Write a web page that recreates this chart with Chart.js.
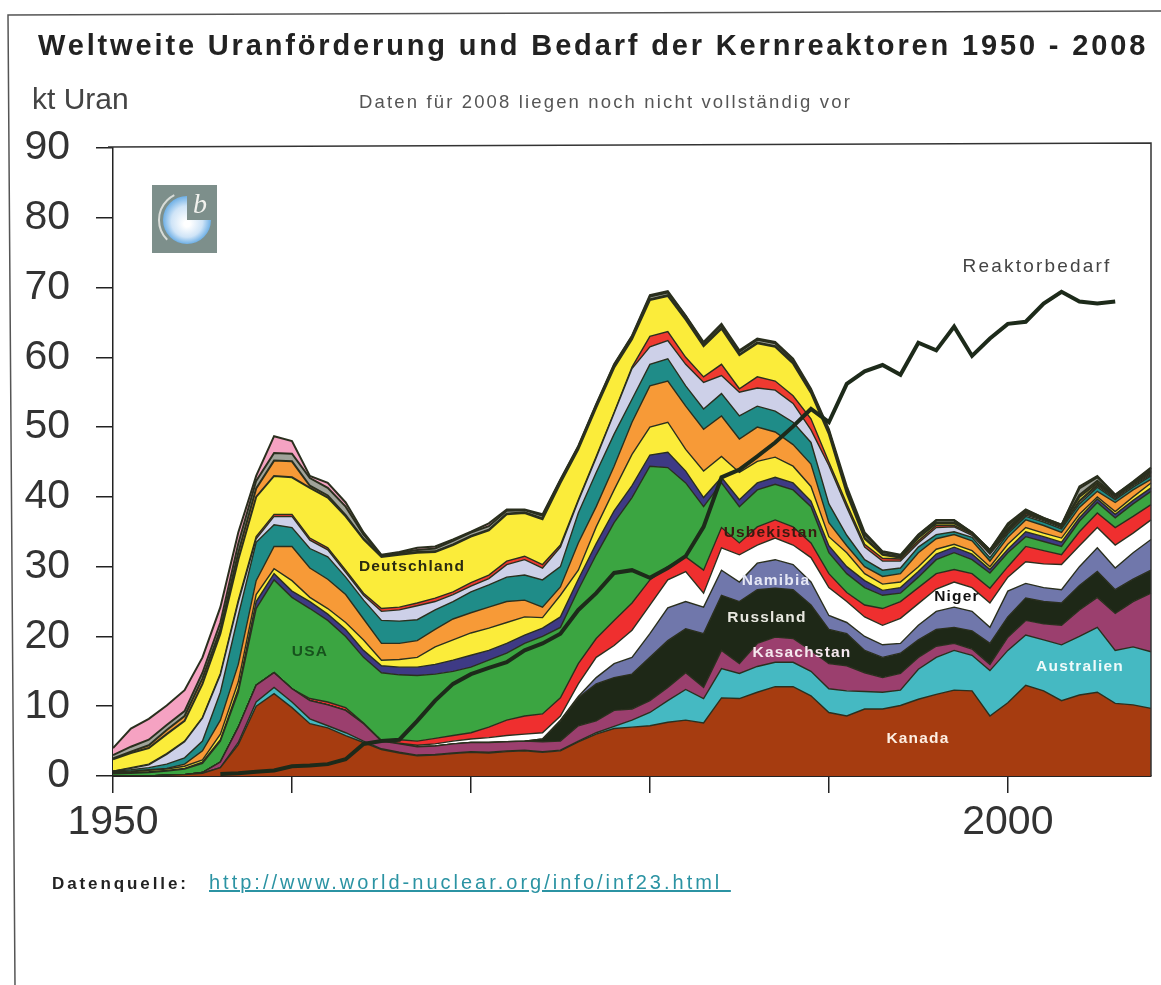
<!DOCTYPE html>
<html lang="de">
<head>
<meta charset="utf-8">
<title>Weltweite Uranförderung und Bedarf der Kernreaktoren 1950 - 2008</title>
<script src="https://cdn.jsdelivr.net/npm/chart.js@4"></script>
<style>
  body { margin: 0; background: #fff; font-family: "Liberation Sans", Arial, sans-serif; }
  #wrap { position: relative; width: 1161px; height: 985px; overflow: hidden; }
  canvas { position: absolute; left: 0; top: 0; }
  #wrap div, #wrap a { position: absolute; white-space: nowrap; color: #222; }
  #title { left: 38px; top: 29px; font-size: 29px; font-weight: bold; letter-spacing: 2.85px; }
  #unit { left: 32px; top: 82px; font-size: 30px; color: #444 !important; }
  #note { left: 359px; top: 91px; font-size: 18.5px; letter-spacing: 2.15px; color: #555 !important; }
  #source { left: 52px; top: 874px; font-size: 17px; font-weight: bold; letter-spacing: 2.9px; }
  #link { left: 209px; top: 871px; font-size: 20px; letter-spacing: 3px; color: #2b93a3 !important; text-decoration: underline; }
</style>
</head>
<body>
<div id="wrap">
  <canvas id="graphCanvas" width="1161" height="985"></canvas>
  <div id="title">Weltweite Uranförderung und Bedarf der Kernreaktoren 1950 - 2008</div>
  <div id="unit">kt Uran</div>
  <div id="note">Daten für 2008 liegen noch nicht vollständig vor</div>
  <div id="source">Datenquelle:</div>
  <a id="link" href="#">http://www.world-nuclear.org/info/inf23.html&nbsp;</a>
</div>
<script>
const years = [];
for (let y = 1950; y <= 2008; y++) years.push(y);
const labeledYears = [1950, 2000];

// upper edge of each stacked layer, kt Uran
const kanada = [0,0,0,0.1,0.2,0.4,1.2,4.5,10,11.8,
  9.8,7.5,6.9,5.8,4.8,3.8,3.3,2.9,3.0,3.2,
  3.4,3.3,3.5,3.6,3.4,3.6,4.9,6.0,6.8,7.0,
  7.2,7.7,8.0,7.6,11.2,11.1,12,12.8,12.8,11.5,
  9.1,8.6,9.6,9.6,10.1,11,11.7,12.3,12.2,8.6,
  10.5,13,12.2,10.8,11.6,12,10.4,10.2,9.7];
const australien = [0,0,0,0.1,0.2,0.4,1.2,4.8,10.6,12.7,
  10.6,8.2,7.2,6.2,5.0,3.9,3.4,3.0,3.1,3.3,
  3.5,3.4,3.6,3.7,3.5,3.7,5.0,6.2,7.1,8.0,
  9.1,10.8,12.4,11.1,15.4,14.7,15.7,16.3,16.3,15,
  12.5,12.2,12.1,12,12.3,15.3,17,18,17.3,15.1,
  18,20.2,19.5,18.8,20,21.3,18,18.5,17.8];
const kasachstan = [0,0,0,0.1,0.2,0.5,2,7,13,14.8,
  12.5,10.8,10.2,9.4,7.5,5,4.6,4.2,4.3,4.6,
  4.8,4.8,4.9,5,4.9,5,7.2,7.9,9.4,9.6,
  10.8,12.7,14.8,12.7,18,16.1,19,19.9,19.7,18,
  16.1,15.8,14.8,14.1,14.7,17,18.6,19,18.2,16,
  19.9,22.3,21.8,21.6,23.8,25.6,23.3,25,26.2];
const russland = [0,0,0,0.1,0.2,0.5,2,7,13,14.8,
  12.5,10.8,10.2,9.4,7.5,5,4.6,4.2,4.3,4.6,
  4.8,4.8,4.9,5,5.3,7.9,11.2,13.2,14.1,14.6,
  17,19.4,21.1,20.4,25.9,25,26.7,26.9,26.7,24.5,
  21,20.4,18,17,17.6,19.5,21,21.3,20.8,19,
  22.8,25.5,25,24.8,27.3,29.3,26.7,28.2,29.5];
const namibia = [0,0,0,0.1,0.2,0.5,2,7,13,14.8,
  12.5,10.8,10.2,9.4,7.5,5,4.6,4.2,4.3,4.6,
  4.8,4.8,4.9,5,5.3,8,11.4,14.1,16.1,17,
  20.4,24.1,25,24.2,29.5,27.8,30.5,31,30.3,27.8,
  23,22,20,18.8,19,21.6,23.6,24.2,23.6,21.3,
  26.5,27.6,27,26.7,30,32.7,29.8,32,33.9];
const niger = [0,0,0,0.1,0.2,0.5,2,7,13,14.8,
  12.5,10.8,10.2,9.4,7.5,5,4.7,4.4,4.6,5,
  5.3,5.5,5.8,6,6.2,8.6,13.2,17,18.7,20.9,
  24.5,28.1,29.3,26.2,32.7,31.7,33.1,34.1,33.1,31.3,
  27,25,22.8,21.6,22.6,24.7,26.8,27.8,27,24.8,
  28.5,30.7,30.4,30.3,33,35.6,33.1,34.8,36.7];
const usbekistan = [0,0,0,0.1,0.2,0.5,2,7,13,14.8,
  12.5,11.1,10.6,9.8,7.6,5.1,5.2,5,5.4,5.8,
  6.2,7,8,8.6,8.9,11.2,16.1,19.7,22.3,24.8,
  28.1,30,31.4,29.5,35.6,33.4,35.7,36.7,35.7,33.4,
  29,26.3,24.5,24,25,27,29,29.6,29,26.9,
  30,32.9,32.3,31.7,35,37.7,35.6,37.2,38.9];
const usa = [0.3,0.4,0.5,0.7,1,1.8,5,12,24,28.1,
  25.6,24,22.3,20,17,14.8,14.5,14.4,14.6,15,
  15.6,16.6,17.6,19,20,21.3,26.7,31.7,36.3,39.9,
  44.4,44.2,42,38.6,42,38.6,41,41.8,41,38.6,
  32,29,27,25.9,26.2,28.5,31,32,31,29.1,
  32,34.3,33.6,32.9,36.5,39.2,37,39,40.8];
const lilaSchicht = [0.4,0.5,0.6,0.8,1.1,2,5.2,12.5,25,29,
  26.5,25,23.2,21,18,15.8,15.6,15.6,16,16.6,
  17.3,18,19,20.2,21.2,22.8,28.2,33.3,38,41.6,
  46,46.4,43.7,39.9,42.8,39.6,42,42.8,42,39.4,
  33,30,28,26.6,27,29.3,31.8,32.8,31.8,29.6,
  32.5,35,34.3,33.5,37,39.7,37.5,39.5,41.3];
const gelbSchicht = [0.5,0.6,0.8,1,1.4,2.3,6,13.5,26,29.7,
  28,25.6,24,22,19.5,16.6,16.7,17,18.5,19.5,
  20.5,21.2,22,22.8,22.7,25.9,29.5,35.7,41,46.1,
  50,50.7,46.8,43.7,45.8,43.5,45.1,45.7,44.4,41.5,
  34.3,32,29,27.5,27.8,30,32.5,33.2,32.3,30,
  33.2,35.6,34.8,34.1,37.5,40,37.9,40,42];
const orangeSchicht = [0.6,0.7,0.9,1.1,1.7,3.6,8,16,28,32.9,
  32.9,29.8,28.2,26,22.5,19,19,19.4,21,22.5,
  23.4,24.2,25,25.2,24.2,27.1,33.4,38.6,44.4,50.7,
  55.9,56.6,53,49.7,51.6,48.3,50,49.3,47.5,44.7,
  36.3,33,30,28.6,29,32,34,34.6,33.7,30.8,
  34.2,36.7,35.9,34.9,38.5,40.8,39.2,41,42.5];
const tuerkisSchicht = [0.7,0.9,1.2,1.7,2.6,5,12,23,33.5,36,
  35.6,32.6,31.4,28.5,25.2,22.3,22.2,22.4,23.8,25,
  26.4,27.4,28.5,28.8,28.1,30,37.7,43.5,49,54,
  59,59.8,55.9,52.6,54.8,51.6,53,52.3,50.7,47.8,
  39,34.5,31,29.5,29.8,32.8,34.6,35,34.2,31.3,
  34.7,37.2,36.4,35.4,39,41.4,39.6,41.4,43];
const hellSchicht = [0.7,1.1,1.6,3.1,4.9,8.3,14.5,24.9,34,37.2,
  37.2,33.8,32.4,29.2,25.9,23.6,23.8,24.4,25,26,
  27.2,28.3,30.3,31,29.8,32.8,39.4,45.6,52,58.4,
  61.5,62.4,59,56.4,57.4,55,55.6,55.3,53.4,49.6,
  44.5,38.5,32.8,30.8,30.8,33.4,35.6,35.7,34.5,31.8,
  34.9,37.4,36.6,35.6,39.3,41.6,39.8,41.6,43.2];
const rotSchicht = [0.7,1.2,1.7,3.2,5,8.4,14.7,25.2,34.3,37.5,
  37.5,34.1,32.7,29.5,26.2,24,24.2,24.8,25.5,26.4,
  27.7,28.8,30.8,31.5,30.3,33.1,39.6,45.8,52.1,58.6,
  63,63.7,60,57.2,59,55.5,57.2,56.6,54.5,51.2,
  45,39,33.2,31.2,31.1,33.7,35.9,35.9,34.7,32,
  35.1,37.6,36.7,35.7,39.5,41.8,40,41.7,43.4];
const deutschland = [2.4,3.3,4,6,7.9,13.2,20.4,31,40,43,
  42.8,41.3,39.9,37.2,33.9,31.4,31.7,32,32.1,33.1,
  34.3,35.2,37.5,37.7,36.8,42,46.8,52.8,58.5,62.6,
  68.2,68.8,65.4,61.6,64.1,60.3,62,61.5,59.1,54.9,
  49,40.5,34,31.7,31.3,34.1,36.2,36.2,34.8,32.2,
  35.3,37.7,36.8,35.8,40,42,40.1,41.9,43.6];
const orangeOben = [2.5,3.5,4.4,6.6,8.6,14,21,32,41.2,45.2,
  45.1,41.6,40.2,37.4,34,31.5,31.8,32.1,32.2,33.2,
  34.4,35.3,37.6,37.8,36.9,42.1,46.9,52.9,58.6,62.7,
  68.3,68.9,65.5,61.7,64.2,60.4,62.1,61.6,59.2,55,
  49.1,40.6,34.1,31.8,31.4,34.2,36.3,36.3,34.9,32.3,
  35.5,37.9,36.9,35.9,40.3,42.3,40.2,42,43.8];
const grauOben = [3,4.2,5.2,7.3,9.3,14.8,22,33.3,42.3,46.3,
  46.2,42.7,41.3,38.6,34.6,31.6,32,32.4,32.6,33.7,
  34.9,35.8,38,38.1,37.3,42.4,47.2,53.2,58.9,63,
  68.7,69.3,65.9,62,64.6,60.8,62.5,62,59.5,55.3,
  49.5,41,34.6,32.1,31.6,34.5,36.6,36.6,34.9,32.4,
  35.9,38.1,37,36,41.2,42.8,40.3,42.1,44.1];
const rosaOben = [4,6.8,8.2,10.1,12.3,17,24.2,34.9,43,48.7,
  48,43,42,39.2,34.9,31.7,32.1,32.7,32.9,33.9,
  35,36.2,38.2,38.2,37.5,42.5,47.3,53.3,59,63.1,
  68.9,69.5,66,62.2,64.8,61,62.7,62.2,59.8,55.5,
  49.7,41.5,34.9,32.2,31.7,34.6,36.7,36.7,34.9,32.4,
  36.2,38.2,37,36,41.5,43,40.3,42.2,44.2];
const reaktorbedarf = [null,null,null,null,null,null,0.3,0.4,0.6,0.8,
  1.4,1.5,1.7,2.4,4.6,5,5.2,7.9,10.8,13.2,
  14.6,15.5,16.3,18,19,20.4,23.8,26.2,29.1,29.5,
  28.4,29.8,31.5,35.7,42.8,43.9,45.8,47.8,50.1,52.6,
  50.7,56.2,58,58.9,57.5,62.1,61,64.4,60.2,62.7,
  64.8,65.1,67.7,69.4,68,67.7,68,null,null];

const layerData = [kanada, australien, kasachstan, russland, namibia, niger, usbekistan, usa,
  lilaSchicht, gelbSchicht, orangeSchicht, tuerkisSchicht, hellSchicht, rotSchicht, deutschland,
  orangeOben, grauOben, rosaOben];
const layerNames = ['Kanada', 'Australien', 'Kasachstan', 'Russland', 'Namibia', 'Niger', 'Usbekistan', 'USA',
  'Lila', 'Gelb', 'Orange', 'Türkis', 'Hell', 'Rot', 'Deutschland', 'Orange oben', 'Grau oben', 'Rosa oben'];
const layerColors = ['#a63c10', '#45b9c2', '#9b3f6e', '#1e2817', '#7077ab', '#ffffff', '#ef2f2f', '#3ba541',
  '#3e3a85', '#fbec3a', '#f79a37', '#1f8c88', '#cdd0e8', '#ef3a30', '#fbec3a', '#f79a37', '#a0a39a', '#f5a2c2'];

const labelFont = 'bold 15.5px "Liberation Sans"';
const inlineLabels = [
  { text: 'USA', x: 310, y: 652, color: '#17521d', font: labelFont, spacing: 1.2 },
  { text: 'Deutschland', x: 412, y: 567, color: '#2a2a10', font: labelFont, spacing: 1.2 },
  { text: 'Usbekistan', x: 771, y: 533, color: '#3a1a10', font: labelFont, spacing: 1.2 },
  { text: 'Namibia', x: 776, y: 581, color: '#e6e8f5', font: labelFont, spacing: 1.2 },
  { text: 'Russland', x: 767, y: 618, color: '#e8e8e0', font: labelFont, spacing: 1.2 },
  { text: 'Kasachstan', x: 802, y: 653, color: '#f5e8ee', font: labelFont, spacing: 1.2 },
  { text: 'Niger', x: 957, y: 597, color: '#111', font: labelFont, spacing: 1.2 },
  { text: 'Australien', x: 1080, y: 667, color: '#eefafa', font: labelFont, spacing: 1.2 },
  { text: 'Kanada', x: 918, y: 739, color: '#fdeee2', font: labelFont, spacing: 1.2 },
  { text: 'Reaktorbedarf', x: 1037, y: 267, color: '#444', font: '19px "Liberation Sans"', spacing: 2.2 },
];

// scanned page: outer frame, plot frame, logo and the labels inside the areas
const pageDecor = {
  id: 'pageDecor',
  beforeDraw(chart) {
    const ctx = chart.ctx;
    ctx.save();
    ctx.strokeStyle = '#555';
    ctx.lineWidth = 1.5;
    ctx.beginPath();
    ctx.moveTo(15, 985);
    ctx.lineTo(8, 15);
    ctx.lineTo(1161, 11);
    ctx.stroke();

    ctx.fillStyle = '#7d8f8b';
    ctx.fillRect(152, 185, 65, 68);
    const ball = ctx.createRadialGradient(187, 224, 3, 187, 220, 24);
    ball.addColorStop(0, '#ffffff');
    ball.addColorStop(0.6, '#cfe4f7');
    ball.addColorStop(1, '#6fb0e6');
    ctx.fillStyle = ball;
    ctx.beginPath();
    ctx.moveTo(187, 220);
    ctx.arc(187, 220, 24, 0, Math.PI * 1.5);
    ctx.closePath();
    ctx.fill();
    ctx.strokeStyle = '#d8dcd8';
    ctx.lineWidth = 2;
    ctx.beginPath();
    ctx.arc(187, 220, 28, Math.PI * 0.75, Math.PI * 1.35);
    ctx.stroke();
    ctx.fillStyle = '#f2f2ee';
    ctx.font = 'italic 28px "Liberation Serif"';
    ctx.textAlign = 'left';
    ctx.textBaseline = 'alphabetic';
    ctx.fillText('b', 193, 213);
    ctx.restore();
  },
  afterDraw(chart) {
    const ctx = chart.ctx;
    const area = chart.chartArea;
    ctx.save();
    ctx.strokeStyle = '#333';
    ctx.lineWidth = 1.5;
    ctx.beginPath();
    ctx.moveTo(area.left - 5, area.top - 1);
    ctx.lineTo(area.right, area.top - 5);
    ctx.lineTo(area.right, area.bottom);
    ctx.stroke();
    ctx.textAlign = 'center';
    ctx.textBaseline = 'middle';
    inlineLabels.forEach(l => {
      ctx.font = l.font;
      ctx.letterSpacing = l.spacing + 'px';
      ctx.fillStyle = l.color;
      ctx.fillText(l.text, l.x, l.y);
    });
    ctx.restore();
  }
};

const datasets = [{
  label: 'Reaktorbedarf',
  data: reaktorbedarf,
  borderColor: '#1d2a1a',
  borderWidth: 4,
  pointRadius: 0,
  fill: false,
  tension: 0,
  spanGaps: false
}];
layerData.forEach((values, i) => {
  datasets.push({
    label: layerNames[i],
    data: values,
    borderColor: '#2a2f1e',
    borderWidth: i >= 14 ? 2 : 1.4,
    backgroundColor: layerColors[i],
    pointRadius: 0,
    tension: 0,
    fill: i === 0 ? 'origin' : '-1'
  });
});

new Chart(document.getElementById('graphCanvas').getContext('2d'), {
  type: 'line',
  data: { labels: years, datasets: datasets },
  plugins: [pageDecor],
  options: {
    responsive: false,
    animation: false,
    layout: { padding: { top: 148, right: 10, bottom: 0, left: 0 } },
    plugins: {
      legend: { display: false },
      tooltip: { enabled: false }
    },
    scales: {
      x: {
        afterFit: scale => { scale.height = 209; },
        border: { color: '#222', width: 2 },
        grid: { drawOnChartArea: false, drawTicks: true, tickLength: 17, color: '#222', lineWidth: 1.5 },
        ticks: {
          autoSkip: false,
          maxRotation: 0,
          padding: 5,
          color: '#333',
          font: { family: '"Liberation Sans"', size: 41 },
          callback: (value, index) => {
            const year = years[index];
            if (year % 10 !== 0) return null;
            return labeledYears.includes(year) ? String(year) : '';
          }
        }
      },
      y: {
        min: 0,
        max: 90,
        afterFit: scale => { scale.width = 113; },
        border: { color: '#222', width: 1.5 },
        grid: { drawOnChartArea: false, drawTicks: true, tickLength: 17, color: '#222', lineWidth: 1.5 },
        ticks: {
          stepSize: 10,
          padding: 26,
          color: '#333',
          font: { family: '"Liberation Sans"', size: 41 }
        }
      }
    }
  }
});
</script>
</body>
</html>
